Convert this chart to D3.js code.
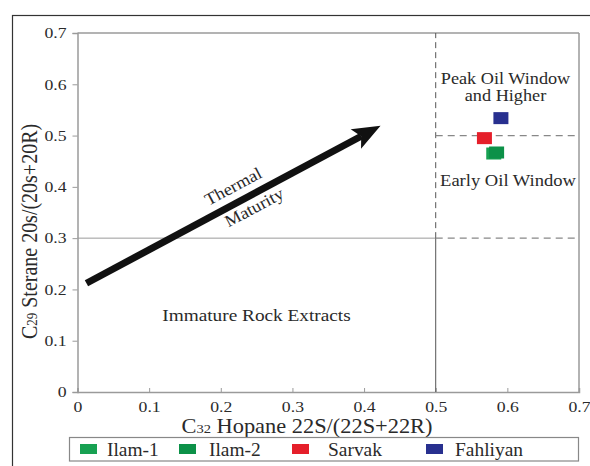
<!DOCTYPE html>
<html>
<head>
<meta charset="utf-8">
<script src="https://cdn.jsdelivr.net/npm/d3@7"></script>
<style>
  html, body { margin: 0; padding: 0; background: #fff; }
  svg { display: block; }
  svg text { font-family: "Liberation Serif", "Times New Roman", "DejaVu Serif", serif; fill: #2a2a2a; }
</style>
</head>
<body>
<svg id="chart" width="590" height="466"></svg>
<script>
// Sample groups and their biomarker ratios
const groups = ["Ilam-1", "Ilam-2", "Sarvak", "Fahliyan"];
const groupColors = ["#17a152", "#0c9148", "#e51f2a", "#28308f"];
const hopaneRatio = [0.581, 0.585, 0.568, 0.591];   // C32 22S/(22S+22R)
const steraneRatio = [0.465, 0.467, 0.495, 0.534];  // C29 20S/(20S+20R)

// Axis ticks
const xTicks = [0, 0.1, 0.2, 0.3, 0.4, 0.5, 0.6, 0.7];
const yTicks = [0, 0.1, 0.2, 0.3, 0.4, 0.5, 0.6, 0.7];

// Maturity field boundaries and trend arrow
const oilWindowX = 0.5;
const peakOilY = 0.5;
const earlyOilY = 0.3;
const arrowFrom = [0.0125, 0.212];
const arrowTo = [0.423, 0.519];

const svg = d3.select("#chart");
const margin = { left: 77.5, right: 11, top: 33, bottom: 74 };
const W = 590, H = 466;
const SX = 1.18; // horizontal widening of the lettering

const x = d3.scaleLinear().domain([0, 0.7]).range([margin.left, W - margin.right]);
const y = d3.scaleLinear().domain([0, 0.7]).range([H - margin.bottom, margin.top]);

// Outer frame
svg.append("rect")
  .attr("x", 12.5).attr("y", 15.5).attr("width", 700).attr("height", 600)
  .attr("fill", "none").attr("stroke", "#333").attr("stroke-width", 1.2);

// Plot border (top and right)
const gray = "#9a9a9a";
svg.append("line").attr("x1", x(0)).attr("x2", x(0.7)).attr("y1", y(0.7)).attr("y2", y(0.7))
  .attr("stroke", gray).attr("stroke-width", 1.5);
svg.append("line").attr("x1", x(0.7)).attr("x2", x(0.7)).attr("y1", y(0.7)).attr("y2", y(0))
  .attr("stroke", gray).attr("stroke-width", 1.5);

// Axes
const fmt = d => d === 0 ? "0" : d3.format(".1f")(d);
const xAxis = svg.append("g").attr("transform", `translate(0,${y(0)})`)
  .call(d3.axisBottom(x).tickValues(xTicks).tickSize(-4).tickPadding(9).tickFormat(fmt));
const yAxis = svg.append("g").attr("transform", `translate(${x(0)},0)`)
  .call(d3.axisLeft(y).tickValues(yTicks).tickSize(5).tickPadding(6).tickFormat(fmt));
[xAxis, yAxis].forEach(a => {
  a.attr("font-family", null).attr("font-size", 15);
  a.select(".domain").attr("stroke", gray).attr("stroke-width", 1.5);
  a.selectAll(".tick line").attr("stroke", gray);
});
xAxis.selectAll(".tick text").attr("transform", `scale(${SX},1)`);
yAxis.selectAll(".tick text").attr("x", -11 / SX).attr("transform", `scale(${SX},1)`);

// Field boundaries
const solid = "#555";
svg.append("line")
  .attr("x1", x(0)).attr("x2", x(oilWindowX)).attr("y1", y(earlyOilY)).attr("y2", y(earlyOilY))
  .attr("stroke", gray).attr("stroke-width", 1);
svg.append("line")
  .attr("x1", x(oilWindowX)).attr("x2", x(oilWindowX)).attr("y1", y(0)).attr("y2", y(earlyOilY))
  .attr("stroke", solid).attr("stroke-width", 1);
svg.append("line")
  .attr("x1", x(oilWindowX)).attr("x2", x(oilWindowX)).attr("y1", y(earlyOilY)).attr("y2", y(0.7))
  .attr("stroke", solid).attr("stroke-width", 1).attr("stroke-dasharray", "6,4");
[peakOilY, earlyOilY].forEach(v => {
  svg.append("line")
    .attr("x1", x(oilWindowX)).attr("x2", x(0.7)).attr("y1", y(v)).attr("y2", y(v))
    .attr("stroke", "#888").attr("stroke-width", 1.3).attr("stroke-dasharray", "7,5");
});

// Thermal maturity arrow
const ax0 = x(arrowFrom[0]), ay0 = y(arrowFrom[1]);
const ax1 = x(arrowTo[0]), ay1 = y(arrowTo[1]);
const ang = Math.atan2(ay1 - ay0, ax1 - ax0);
const headLen = 24, headHalf = 11;
const bx = ax1 - headLen * Math.cos(ang), by = ay1 - headLen * Math.sin(ang);
svg.append("line")
  .attr("x1", ax0).attr("y1", ay0).attr("x2", bx + 2 * Math.cos(ang)).attr("y2", by + 2 * Math.sin(ang))
  .attr("stroke", "#111").attr("stroke-width", 7);
svg.append("polygon")
  .attr("points", [
    [ax1, ay1],
    [bx - headHalf * Math.sin(ang) - 4 * Math.cos(ang), by + headHalf * Math.cos(ang) - 4 * Math.sin(ang)],
    [bx + 2 * Math.cos(ang), by + 2 * Math.sin(ang)],
    [bx + headHalf * Math.sin(ang) - 4 * Math.cos(ang), by - headHalf * Math.cos(ang) - 4 * Math.sin(ang)]
  ].map(p => p.join(",")).join(" "))
  .attr("fill", "#111");

const deg = ang * 180 / Math.PI;
[["Thermal", 234, 188], ["Maturity", 255, 209]].forEach(([s, tx, ty]) => {
  svg.append("text").attr("transform", `translate(${tx},${ty}) rotate(${deg}) scale(1.08,1)`)
    .attr("text-anchor", "middle").attr("dominant-baseline", "middle")
    .attr("font-size", 17).text(s);
});

// Field labels (widened horizontally)
const label = (tx, ty, s, size, sx) => svg.append("text")
  .attr("transform", `translate(${tx},${ty}) scale(${sx},1)`)
  .attr("text-anchor", "middle").attr("font-size", size).text(s);
label(505.5, 83.5, "Peak Oil Window", 16, 1.14);
label(505.5, 100.5, "and Higher", 16, 1.14);
label(508, 186, "Early Oil Window", 16, 1.16);
label(256.5, 321, "Immature Rock Extracts", 16.5, 1.17);

// Sample markers
const pts = groups.map((g, i) => ({ g, c: groupColors[i], x: hopaneRatio[i], y: steraneRatio[i] }));
svg.append("g").selectAll("rect").data(pts).join("rect")
  .attr("x", d => x(d.x) - 7.5).attr("y", d => y(d.y) - 6)
  .attr("width", 15).attr("height", 12)
  .attr("fill", d => d.c);

// Axis titles
const xt = svg.append("text").attr("transform", "translate(307,432.5) scale(1.12,1)")
  .attr("text-anchor", "middle").attr("font-size", 20).attr("fill", "#333");
xt.append("tspan").text("C");
xt.append("tspan").attr("font-size", 13).text("32");
xt.append("tspan").text(" Hopane 22S/(22S+22R)");

const yt = svg.append("text").attr("transform", "translate(37,231.5) scale(1.12,1) rotate(-90)")
  .attr("text-anchor", "middle").attr("font-size", 20).attr("fill", "#333");
yt.append("tspan").text("C");
yt.append("tspan").attr("font-size", 13).text("29");
yt.append("tspan").text(" Sterane 20s/(20s+20R)");

// Legend
svg.append("rect").attr("x", 69.5).attr("y", 437.5).attr("width", 509).attr("height", 23.5)
  .attr("fill", "#fff").attr("stroke", "#888").attr("stroke-width", 1.2);
const swatchX = [80, 179, 292, 426];
const legendTextX = [107, 209, 328, 455];
const leg = svg.append("g").selectAll("g").data(pts).join("g");
leg.append("rect").attr("x", (d, i) => swatchX[i]).attr("y", 444).attr("width", 17).attr("height", 10)
  .attr("fill", d => d.c);
leg.append("text")
  .attr("transform", (d, i) => `translate(${legendTextX[i]},456) scale(1.08,1)`)
  .attr("font-size", 18).attr("fill", "#333")
  .text(d => d.g);
</script>
</body>
</html>
